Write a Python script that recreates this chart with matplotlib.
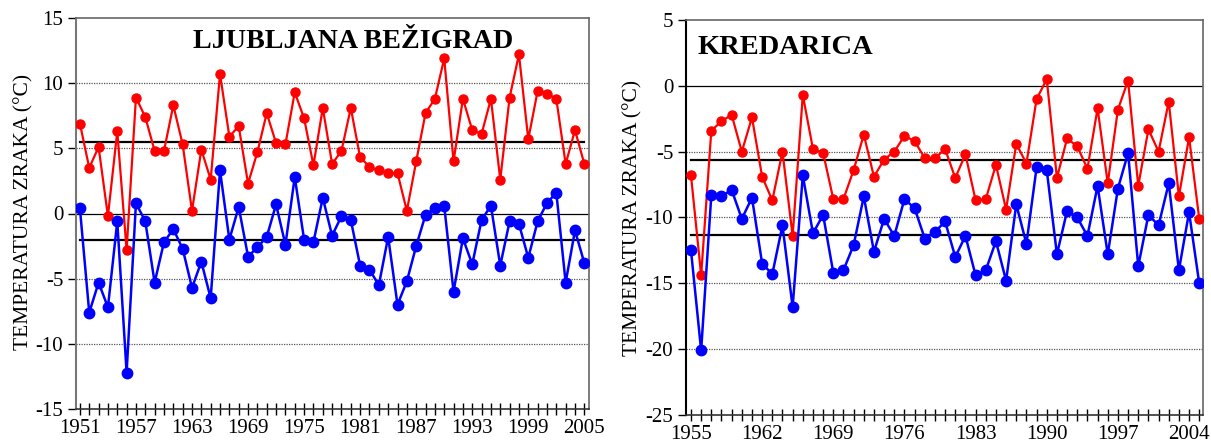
import matplotlib
matplotlib.use("Agg")
import matplotlib.pyplot as plt
from matplotlib.ticker import MultipleLocator, FixedLocator

plt.rcParams['font.family'] = ['Liberation Serif', 'DejaVu Serif']

# Ljubljana Bežigrad
lj_years = list(range(1951, 2006))
lj_red = [6.9, 3.5, 5.1, -0.2, 6.3, -2.8, 8.9, 7.4, 4.8, 4.8,
          8.3, 5.3, 0.2, 4.9, 2.6, 10.7, 5.9, 6.7, 2.3, 4.7,
          7.7, 5.4, 5.3, 9.3, 7.3, 3.7, 8.1, 3.8, 4.8, 8.1,
          4.3, 3.6, 3.3, 3.1, 3.1, 0.2, 4.0, 7.7, 8.8, 11.9,
          4.0, 8.8, 6.4, 6.1, 8.8, 2.6, 8.9, 12.2, 5.7, 9.4,
          9.2, 8.8, 3.8, 6.4, 3.8]
lj_blue = [0.4, -7.6, -5.3, -7.2, -0.6, -12.2, 0.8, -0.6, -5.3, -2.2,
           -1.2, -2.7, -5.7, -3.7, -6.5, 3.3, -2.0, 0.5, -3.3, -2.6,
           -1.8, 0.7, -2.4, 2.8, -2.0, -2.2, 1.2, -1.7, -0.2, -0.5,
           -4.0, -4.3, -5.5, -1.8, -7.0, -5.2, -2.5, -0.1, 0.4, 0.6,
           -6.0, -1.9, -3.9, -0.5, 0.6, -4.0, -0.6, -0.8, -3.4, -0.6,
           0.8, 1.6, -5.3, -1.3, -3.8]
lj_red_mean = 5.5
lj_blue_mean = -2.0
lj_xticks = [1951, 1957, 1963, 1969, 1975, 1981, 1987, 1993, 1999, 2005]
lj_yticks = [15, 10, 5, 0, -5, -10, -15]

# Kredarica
kr_years = list(range(1955, 2006))
kr_red = [-6.8, -14.4, -3.4, -2.7, -2.2, -5.0, -2.4, -6.9, -8.7, -5.0,
          -11.4, -0.7, -4.8, -5.1, -8.6, -8.6, -6.4, -3.7, -6.9, -5.6,
          -5.0, -3.8, -4.2, -5.5, -5.5, -4.8, -7.0, -5.2, -8.7, -8.6,
          -6.0, -9.4, -4.4, -5.9, -1.0, 0.5, -7.0, -4.0, -4.6, -6.3,
          -1.7, -7.4, -1.8, 0.4, -7.6, -3.3, -5.0, -1.2, -8.4, -3.9,
          -10.1]
kr_blue = [-12.5, -20.1, -8.3, -8.4, -7.9, -10.1, -8.5, -13.5, -14.3, -10.6,
           -16.8, -6.8, -11.2, -9.8, -14.2, -14.0, -12.1, -8.4, -12.6, -10.1,
           -11.4, -8.6, -9.3, -11.6, -11.1, -10.3, -13.0, -11.4, -14.4, -14.0,
           -11.8, -14.8, -9.0, -12.0, -6.2, -6.4, -12.8, -9.5, -10.0, -11.4,
           -7.6, -12.8, -7.8, -5.1, -13.7, -9.8, -10.6, -7.4, -14.0, -9.6,
           -15.0]
kr_red_mean = -5.6
kr_blue_mean = -11.3
kr_xticks = [1955, 1962, 1969, 1976, 1983, 1990, 1997, 2004]
kr_yticks = [5, 0, -5, -10, -15, -20, -25]

W, H = 1211, 446
fig = plt.figure(figsize=(W / 100, H / 100), dpi=100)


def px_axes(l, t, r, b):
    return fig.add_axes([l / W, 1 - b / H, (r - l) / W, (b - t) / H])


def draw(ax, years, red, blue, rmean, bmean, xticks, yticks, xlim, spine_col):
    ylo, yhi = min(yticks), max(yticks)
    for y in yticks:
        if y in (ylo, yhi):
            continue
        if y == 0:
            ax.axhline(0, color='black', lw=0.9, zorder=1)
        else:
            ax.axhline(y, color='#555555', lw=0.9, ls=(0, (1, 1)), zorder=1)
    ax.plot([years[0], years[-1]], [rmean, rmean], color='black', lw=1.6, zorder=2)
    ax.plot([years[0], years[-1]], [bmean, bmean], color='black', lw=1.6, zorder=2)
    ax.plot(years, red, color='#ff0000', lw=1.6, marker='o', ms=6.5,
            mec='#ff0000', mfc='#ff0000', zorder=3)
    ax.plot(years, blue, color='#0000ff', lw=1.8, marker='o', ms=7.5,
            mec='#0000ff', mfc='#0000ff', zorder=3)
    ax.set_xlim(*xlim)
    ax.set_ylim(ylo, yhi)
    ax.xaxis.set_major_locator(FixedLocator(xticks))
    ax.xaxis.set_minor_locator(MultipleLocator(1))
    ax.set_yticks(yticks)
    ax.set_yticklabels([str(v) for v in yticks])
    ax.tick_params(axis='x', which='both', direction='inout', length=9,
                   width=1, labelsize=15, pad=3, top=False)
    ax.tick_params(axis='y', which='both', direction='out', length=6,
                   width=1, labelsize=15, pad=3, right=False)
    for s in ['top', 'right']:
        ax.spines[s].set_color('#666666')
        ax.spines[s].set_linewidth(1.2)
    ax.spines['left'].set_color(spine_col)
    ax.spines['left'].set_linewidth(1.5)
    ax.spines['bottom'].set_color('#333333')
    ax.spines['bottom'].set_linewidth(1.2)


ax1 = px_axes(75.7, 18, 589, 409)
draw(ax1, lj_years, lj_red, lj_blue, lj_red_mean, lj_blue_mean,
     lj_xticks, lj_yticks, (1950.55, 2005.5), '#777777')
ax1.text(0.54, 0.94, 'LJUBLJANA BEŽIGRAD', transform=ax1.transAxes,
         ha='center', va='center', fontsize=20.2, fontweight='bold')

ax2 = px_axes(685.7, 20, 1203.3, 415)
draw(ax2, kr_years, kr_red, kr_blue, kr_red_mean, kr_blue_mean,
     kr_xticks, kr_yticks, (1954.48, 2005.4), 'black')
ax2.text(0.022, 0.93, 'KREDARICA', transform=ax2.transAxes,
         ha='left', va='center', fontsize=20.5, fontweight='bold')

fig.text(24 / W, 1 - 212 / H, 'TEMPERATURA ZRAKA (°C)', rotation=90,
         ha='center', va='center', fontsize=15.5)
fig.text(633 / W, 1 - 218 / H, 'TEMPERATURA ZRAKA (°C)', rotation=90,
         ha='center', va='center', fontsize=15.5)

fig.savefig('out.png', dpi=100)
